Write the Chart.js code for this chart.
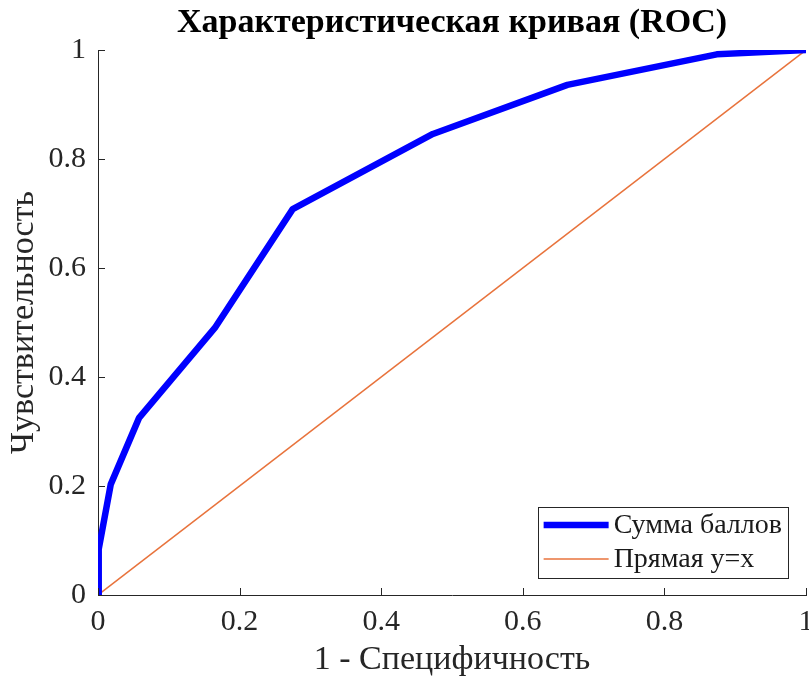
<!DOCTYPE html>
<html>
<head>
<meta charset="utf-8">
<script src="https://cdn.jsdelivr.net/npm/chart.js@4.4.1/dist/chart.umd.min.js"></script>
<style>
  html, body { margin: 0; padding: 0; background: #fff; }
  #wrap { width: 809px; height: 684px; }
</style>
</head>
<body>
<div id="wrap"><canvas id="roc"></canvas></div>
<script>
// ── Data ────────────────────────────────────────────────────
const fprValues = [0, 0.001, 0.018, 0.058, 0.165, 0.275, 0.473, 0.663, 0.874, 1];
const tprValues = [0, 0.084, 0.203, 0.325, 0.49, 0.708, 0.846, 0.936, 0.992, 1];
const diagX = [0, 1];
const diagY = [0, 1];
const tickValues = [0, 0.2, 0.4, 0.6, 0.8, 1];

const seriesLabels = ['Сумма баллов', 'Прямая y=x'];
const titleText = 'Характеристическая кривая (ROC)';
const xTitle = '1 - Специфичность';
const yTitle = 'Чувствительность';

const FONT = '"Liberation Serif", "Times New Roman", serif';
const AXIS = '#262626';

const toPoints = (xs, ys) => xs.map((x, i) => ({ x, y: ys[i] }));

// inward tick marks (MATLAB style)
const innerTicks = {
    id: 'innerTicks',
    afterDraw(chart) {
        const { ctx, chartArea, scales } = chart;
        ctx.save();
        ctx.strokeStyle = AXIS;
        ctx.lineWidth = 1;
        ctx.beginPath();
        tickValues.forEach(v => {
            const px = Math.round(scales.x.getPixelForValue(v)) + 0.5;
            ctx.moveTo(px, chartArea.bottom);
            ctx.lineTo(px, chartArea.bottom - 7);
            const py = Math.round(scales.y.getPixelForValue(v)) + 0.5;
            ctx.moveTo(chartArea.left, py);
            ctx.lineTo(chartArea.left + 7, py);
        });
        ctx.stroke();
        ctx.restore();
    }
};

// legend box inside lower-right corner
const innerLegend = {
    id: 'innerLegend',
    afterDraw(chart) {
        const { ctx, chartArea } = chart;
        ctx.save();
        ctx.font = '28px ' + FONT;
        const textW = Math.max(...seriesLabels.map(s => ctx.measureText(s).width));
        const lineLen = 65;
        const w = 6 + lineLen + 5 + textW + 6;
        const h = 71;
        const x0 = chartArea.right - 18 - w;
        const y0 = chartArea.bottom - 17 - h;
        ctx.fillStyle = '#fff';
        ctx.fillRect(x0, y0, w, h);
        ctx.strokeStyle = AXIS;
        ctx.lineWidth = 1;
        ctx.strokeRect(Math.round(x0) + 0.5, Math.round(y0) + 0.5, Math.round(w), h);
        chart.data.datasets.forEach((ds, i) => {
            const cy = y0 + 18 + i * 34;
            ctx.strokeStyle = ds.borderColor;
            ctx.lineWidth = ds.borderWidth;
            ctx.beginPath();
            ctx.moveTo(x0 + 6, cy);
            ctx.lineTo(x0 + 6 + lineLen, cy);
            ctx.stroke();
            ctx.fillStyle = '#1a1a1a';
            ctx.textBaseline = 'middle';
            ctx.fillText(seriesLabels[i], x0 + 6 + lineLen + 5, cy + 1);
        });
        ctx.restore();
    }
};

new Chart(document.getElementById('roc'), {
    type: 'scatter',
    data: {
        datasets: [{
            label: seriesLabels[0],
            data: toPoints(fprValues, tprValues),
            showLine: true,
            borderColor: '#0000ff',
            borderWidth: 6.5,
            pointRadius: 0,
            borderJoinStyle: 'round',
            tension: 0
        }, {
            label: seriesLabels[1],
            data: toPoints(diagX, diagY),
            showLine: true,
            borderColor: '#e8733c',
            borderWidth: 1.5,
            pointRadius: 0
        }]
    },
    options: {
        responsive: true,
        maintainAspectRatio: false,
        animation: false,
        layout: { padding: { left: 0, right: 3, top: 0, bottom: 0 } },
        plugins: {
            legend: { display: false },
            tooltip: { enabled: false },
            title: {
                display: true,
                fullSize: false,
                text: titleText,
                color: '#000',
                font: { family: FONT, size: 34, weight: 'bold', lineHeight: 1.2 },
                padding: { top: 3, bottom: 6.2 }
            }
        },
        scales: {
            x: {
                type: 'linear',
                min: 0, max: 1,
                afterBuildTicks: s => { s.ticks = tickValues.map(v => ({ value: v })); },
                afterFit: s => { s.height = 89; s.paddingRight = 0; s.paddingLeft = 0; },
                grid: { display: false },
                border: { display: true, color: AXIS, width: 1 },
                ticks: { color: '#262626', font: { family: FONT, size: 30 }, padding: 1, maxRotation: 0,
                         callback: v => String(v) },
                title: { display: true, text: xTitle, color: '#262626', font: { family: FONT, size: 34 }, padding: { top: 0, bottom: 4 } }
            },
            y: {
                type: 'linear',
                min: 0, max: 1,
                afterBuildTicks: s => { s.ticks = tickValues.map(v => ({ value: v })); },
                afterFit: s => { s.width = 98; },
                grid: { display: false },
                border: { display: true, color: AXIS, width: 1 },
                ticks: { color: '#262626', font: { family: FONT, size: 30 }, padding: 4,
                         callback: v => String(v) },
                title: { display: true, text: yTitle, color: '#262626', font: { family: FONT, size: 34 }, padding: { top: 4, bottom: 0 } }
            }
        }
    },
    plugins: [innerTicks, innerLegend]
});
</script>
</body>
</html>
